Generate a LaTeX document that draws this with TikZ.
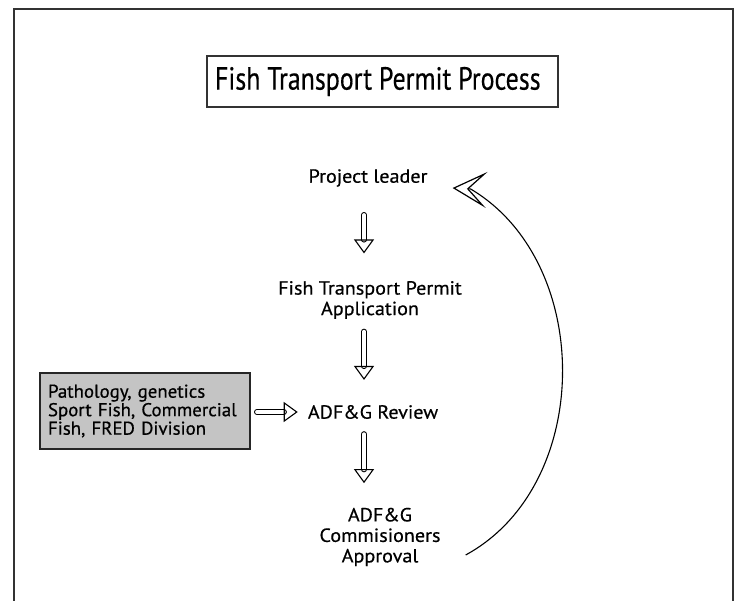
\documentclass[tikz,border=0pt]{standalone}
\usepackage{fontspec}
\setmainfont{PT Sans}
\newfontfamily\titlefont[FakeStretch=0.81, FakeBold=0.4]{PT Sans}
\newfontfamily\bodyfont[FakeStretch=1.06, FakeBold=0.5]{PT Sans}
\newfontfamily\grayfont[FakeStretch=1.02, FakeBold=0.6]{PT Sans}
\usetikzlibrary{arrows.meta,calc}
\definecolor{framecol}{HTML}{333333}
\definecolor{boxgray}{HTML}{C4C4C4}
\tikzset{
  frameline/.style={draw=framecol, line width=2pt},
  titlebox/.style={draw=framecol, line width=1.4pt, minimum width=351pt, minimum height=51pt, inner sep=0pt,
    font=\titlefont\fontsize{32}{36}\selectfont},
  lbl/.style={inner sep=0pt, align=center, font=\bodyfont\fontsize{19}{20.5}\selectfont},
  graybox/.style={draw=black!85, line width=1.8pt, fill=boxgray, minimum width=210pt, minimum height=76pt,
    inner sep=0pt, text width=194pt, align=left, font=\grayfont\fontsize{18.5}{18.5}\selectfont},
  hollow/.style={line width=1.1pt, double distance=3.6pt, line cap=round,
    -{Triangle[open, length=14pt, width=20pt, line width=1.1pt]}},
  curvearrow/.style={line width=1.1pt, -{Stealth[open, length=34pt, width=36pt, inset=18pt, line width=1.2pt]}}
}
\begin{document}
\begin{tikzpicture}[x=1pt, y=-1pt]
\useasboundingbox (0,0) rectangle (741,601);
\draw[frameline] (14,601) -- (14,9) -- (733,9) -- (733,601);

\node[titlebox] (title) at (382.5,81.5) {\makebox[335pt][l]{Fish Transport Permit Process}};

\node[lbl] (pl) at (368,178) {Project leader};
\node[lbl] (app) at (370,300) {Fish Transport Permit\\Application};
\node[lbl] (rev) at (373,412) {ADF\&G Review};
\node[lbl] (appr) at (380,537) {ADF\&G\\Commisioners\\Approval};
\node[graybox] (grp) at (145,411) {Pathology, genetics\\Sport Fish, Commercial\\Fish, FRED Division};

\coordinate (ax) at (364,0);
\draw[hollow, shorten <=28pt, shorten >=27.5pt] (pl.south -| ax) -- (app.north -| ax);
\draw[hollow, shorten <=12.5pt, shorten >=25pt] (app.south -| ax) -- (rev.north -| ax);
\draw[hollow, shorten <=15pt, shorten >=24.5pt] (rev.south -| ax) -- (appr.north -| ax);
\draw[hollow, shorten <=6pt, shorten >=10pt] (grp.east |- rev) -- (rev.west);

\coordinate (fbstart) at ([shift={(25,18)}]appr.east);
\coordinate (fbtip) at ([shift={(25,10)}]pl.east);
\draw[curvearrow] (fbstart) .. controls (594,485) and (594,262) .. ($(fbtip)+(18,1)$) -- (fbtip);
\end{tikzpicture}
\end{document}
